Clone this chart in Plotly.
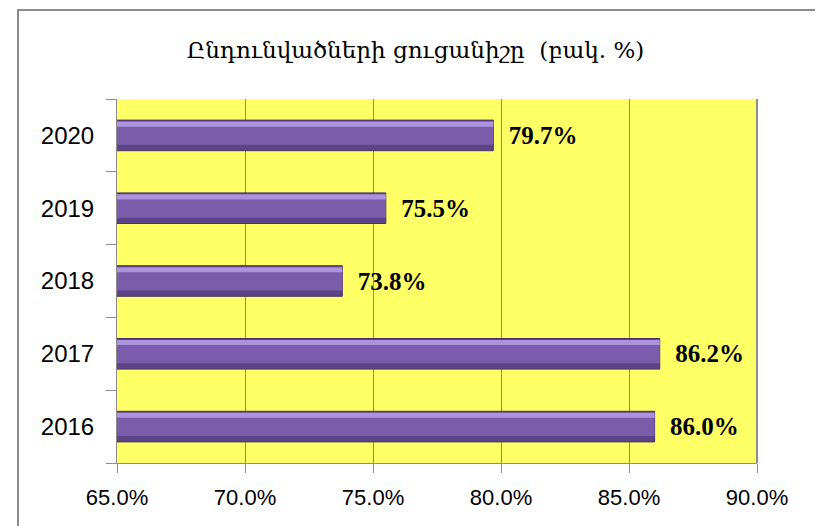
import plotly.graph_objects as go

years = ["2016", "2017", "2018", "2019", "2020"]
rates = [0.860, 0.862, 0.738, 0.755, 0.797]
tick_vals = [0.65, 0.70, 0.75, 0.80, 0.85, 0.90]
title_text = "Ընդունվածների ցուցանիշը  (բակ. %)"

OFF = 8  # page body margin
W, H = 823 - OFF, 526 - OFF
L, T = 117 - OFF, 99 - OFF
R, B = 823 - 757, 526 - 463
pw, ph = W - L - R, H - T - B

fig = go.Figure()
fig.add_trace(go.Bar(
    y=years, x=rates, orientation="h", width=0.42, offset=-0.21,
    marker=dict(color="#5d4486", line=dict(color="#46326a", width=1)),
    text=[f"\u00a0\u00a0<b>{v*100:.1f}%</b>" for v in rates], textposition="outside",
    textfont=dict(family="Liberation Serif", size=25, color="black"),
    cliponaxis=False, hoverinfo="skip",
))
fig.add_trace(go.Bar(
    y=years, x=rates, orientation="h", width=0.30, offset=-0.13,
    marker=dict(color="#7a5caa", line=dict(width=0)), hoverinfo="skip",
))
fig.add_trace(go.Bar(
    y=years, x=rates, orientation="h", width=0.07, offset=0.12,
    marker=dict(color="#ad92dd", line=dict(width=0)), hoverinfo="skip",
))

fig.update_layout(
    width=W, height=H,
    margin=dict(l=L, r=R, t=T, b=B),
    paper_bgcolor="white", plot_bgcolor="#ffff66",
    barmode="overlay", showlegend=False,
    title=dict(text=title_text, x=0.5, xanchor="center", y=1 - (50 - OFF) / H, yanchor="middle",
               font=dict(family="DejaVu Serif", size=23, color="black")),
    xaxis=dict(range=[0.65, 0.90], tickvals=tick_vals, tickformat=".1%",
               showgrid=True, gridcolor="#8c8c8c", gridwidth=1,
               showline=True, linecolor="#8c8c8c", linewidth=1,
               ticks="outside", ticklen=9, tickcolor="#8c8c8c",
               tickfont=dict(family="Liberation Sans", size=22, color="black"),
               ticklabelstandoff=6, zeroline=False, fixedrange=True),
    yaxis=dict(type="category", categoryorder="array", categoryarray=years,
               showgrid=False, showline=True, linecolor="#8c8c8c", linewidth=1,
               ticks="outside", ticklen=10, tickcolor="#8c8c8c", tickson="boundaries",
               tickfont=dict(family="Liberation Sans", size=24, color="black"),
               ticklabelstandoff=17, fixedrange=True),
    shapes=[
        dict(type="line", xref="paper", yref="paper", x0=1, x1=1, y0=0, y1=1,
             line=dict(color="#8c8c8c", width=2)),
        dict(type="rect", xref="paper", yref="paper",
             x0=(18 - 117) / pw, x1=(817 - 117) / pw,
             y0=(463 - 560) / ph, y1=(463 - 10) / ph,
             line=dict(color="#8c8c8c", width=2), fillcolor="rgba(0,0,0,0)", layer="below"),
    ],
)

fig.write_html("out.html")
